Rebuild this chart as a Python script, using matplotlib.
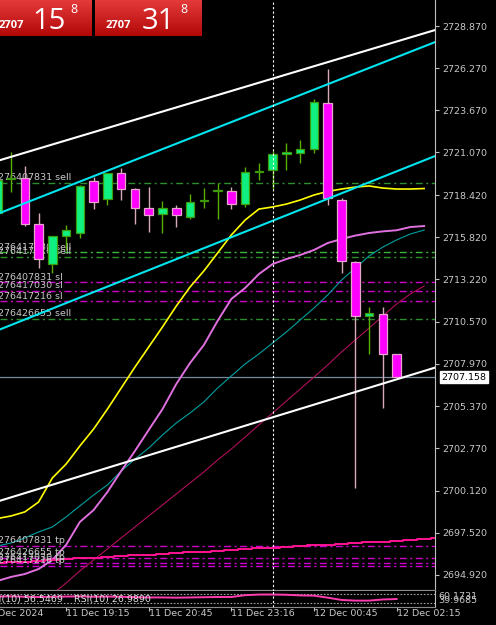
import numpy as np
import matplotlib
matplotlib.use('Agg')
import matplotlib.pyplot as plt
from matplotlib.transforms import blended_transform_factory
from matplotlib.patches import Rectangle
from matplotlib.colors import LinearSegmentedColormap

# ---------------- data ----------------
opens  = [2717.31, 2719.42, 2719.47, 2716.63, 2714.15, 2715.88, 2716.07, 2719.29, 2718.17, 2719.78,
          2718.79, 2717.62, 2717.24, 2717.62, 2717.06, 2718.08, 2718.64, 2718.67, 2717.86, 2719.87,
          2719.97, 2720.95, 2721.02, 2721.26, 2724.11, 2718.11, 2714.28, 2710.94, 2711.06, 2708.59]
highs  = [2719.60, 2721.08, 2720.21, 2717.31, 2715.88, 2716.56, 2719.04, 2719.53, 2719.78, 2720.09,
          2718.85, 2718.91, 2718.05, 2717.80, 2718.48, 2718.85, 2719.16, 2718.91, 2720.15, 2720.40,
          2721.14, 2721.63, 2721.82, 2724.36, 2726.21, 2718.23, 2714.34, 2711.49, 2711.49, 2708.59]
lows   = [2716.90, 2718.60, 2716.50, 2713.90, 2713.60, 2715.02, 2715.76, 2717.55, 2717.80, 2718.11,
          2716.63, 2716.13, 2716.07, 2716.44, 2716.93, 2717.62, 2716.93, 2717.55, 2717.68, 2719.35,
          2718.79, 2719.97, 2720.40, 2721.02, 2717.80, 2713.60, 2700.30, 2708.59, 2705.25, 2707.16]
closes = [2719.35, 2719.47, 2716.63, 2714.46, 2715.88, 2716.25, 2718.98, 2717.99, 2719.78, 2718.79,
          2717.62, 2717.18, 2717.62, 2717.18, 2717.99, 2718.11, 2718.67, 2717.86, 2719.84, 2719.90,
          2720.95, 2721.08, 2721.26, 2724.17, 2718.23, 2714.34, 2710.94, 2711.12, 2708.59, 2707.16]

# moving averages (drawn with a 2-bar forward shift, so 32 points)
ma_yellow = [2698.41, 2698.57, 2698.82, 2699.43, 2700.92, 2701.78, 2702.90, 2703.95, 2705.18, 2706.48,
             2707.78, 2709.02, 2710.26, 2711.55, 2712.73, 2713.72, 2714.83, 2715.95, 2716.87, 2717.55,
             2717.68, 2717.86, 2718.11, 2718.42, 2718.64, 2718.79, 2718.91, 2718.98, 2718.85, 2718.79,
             2718.79, 2718.82]
ma_violet = [2694.55, 2694.80, 2694.98, 2695.29, 2695.85, 2696.78, 2698.20, 2698.94, 2700.05, 2701.35,
             2702.59, 2703.89, 2705.18, 2706.73, 2708.03, 2709.14, 2710.63, 2711.99, 2712.67, 2713.53,
             2714.15, 2714.46, 2714.71, 2715.02, 2715.45, 2715.70, 2715.91, 2716.07, 2716.17, 2716.24,
             2716.44, 2716.50]
ma_teal   = [2696.71, 2696.90, 2697.21, 2697.58, 2697.89, 2698.51, 2699.19, 2699.87, 2700.49, 2701.35,
             2702.09, 2702.77, 2703.58, 2704.32, 2704.94, 2705.62, 2706.48, 2707.23, 2707.97, 2708.59,
             2709.27, 2709.95, 2710.69, 2711.43, 2712.24, 2713.16, 2713.90, 2714.65, 2715.20, 2715.64,
             2716.01, 2716.25]
ma_crimson = [2690.90, 2691.64, 2692.32, 2693.06, 2693.74, 2694.42, 2695.17, 2695.85, 2696.53, 2697.21,
              2697.89, 2698.57, 2699.25, 2699.93, 2700.61, 2701.29, 2702.03, 2702.71, 2703.45, 2704.20,
              2704.94, 2705.68, 2706.42, 2707.16, 2707.91, 2708.71, 2709.45, 2710.19, 2710.94, 2711.68,
              2712.30, 2712.79]
ma_pink = [2695.66, 2695.70, 2695.74, 2695.80, 2695.85, 2695.88, 2695.94, 2695.99, 2696.04, 2696.07,
           2696.13, 2696.18, 2696.23, 2696.26, 2696.32, 2696.37, 2696.42, 2696.45, 2696.51, 2696.56,
           2696.61, 2696.64, 2696.70, 2696.75, 2696.80, 2696.83, 2696.89, 2696.94, 2696.99, 2697.02,
           2697.08, 2697.13, 2697.19]

# trend lines: anchor bars and prices
trend_x = [-1, 33]
white_upper = [2720.27, 2728.93]
white_lower = [2699.20, 2708.06]
cyan_upper  = [2716.91, 2728.28]
cyan_lower  = [2709.70, 2721.24]

# order lines
sell_prices = [2719.16, 2714.87, 2714.57, 2710.75]
sell_labels = ["276407831 sell", "276417030 sell", "276417216 sell", "276426655 sell"]
sell_colors = ['#2E8B2E', '#3CB43C', '#2E8B2E', '#2E8B2E']
sl_prices = [2713.02, 2712.48, 2711.84]
sl_labels = ["276407831 sl", "276417030 sl", "276417216 sl"]
tp_prices = [2696.71, 2695.97, 2695.69, 2695.48]
tp_labels = ["276407831 tp", "276426655 tp", "276417030 tp", "276417216 tp"]

current_price = 2707.158
marker_bar = 20

price_ticks = [2728.870, 2726.270, 2723.670, 2721.070, 2718.420, 2715.820, 2713.220,
               2710.570, 2707.970, 2705.370, 2702.770, 2700.120, 2697.520, 2694.920]

time_tick_bars = [-1, 5, 11, 17, 23, 29]
time_tick_labels = ["11 Dec 2024", "11 Dec 19:15", "11 Dec 20:45", "11 Dec 23:16",
                    "12 Dec 00:45", "12 Dec 02:15"]

rsi = [60, 61, 59, 58, 59, 60, 61, 59, 60, 59, 57, 56, 56, 55, 56, 57, 58, 58, 66, 69,
       69, 68, 65, 64, 55, 45, 42, 42, 47, 49]

# ---------------- figure ----------------
W, H = 496, 625
fig = plt.figure(figsize=(W / 100, H / 100), dpi=100, facecolor='black')

def fx(x):
    return x / W

def fy(y):
    return 1 - y / H

TXT = '#C8C8C8'
FS = 6.8

ax = fig.add_axes([0, fy(591), fx(435), 591 / H])
ax_rsi = fig.add_axes([0, fy(607), fx(435), 16 / H])
for a in (ax, ax_rsi):
    a.set_facecolor('black')
    a.set_xlim(0.2, 31.79)
    for s in ('top', 'left'):
        a.spines[s].set_visible(False)
    a.spines['right'].set_color('#C0C0C0')
    a.spines['bottom'].set_color('#8A8A8A')

ax.set_ylim(2693.93, 2730.48)
ax.spines['bottom'].set_linewidth(1.6)
ax.set_xticks([])
ax.yaxis.tick_right()
ax.set_yticks(price_ticks)
ax.set_yticklabels([f"{v:.3f}" for v in price_ticks])
ax.tick_params(axis='y', colors='#C0C0C0', labelcolor=TXT, labelsize=FS, length=3, width=0.8, pad=2)

# moving averages
ma_x = np.arange(len(ma_yellow))
ax.plot(ma_x, ma_crimson, color='#B0105A', lw=0.8, zorder=2)
ax.plot(ma_x, ma_teal, color='#00A0A0', lw=0.8, zorder=2)
ax.plot(ma_x, ma_violet, color='#E070E0', lw=1.4, zorder=2)
ax.plot(ma_x, ma_yellow, color='#FFFF00', lw=1.2, zorder=2)
ax.plot(np.arange(len(ma_pink)), ma_pink, color='#FF1493', lw=1.4, zorder=2, drawstyle='steps-mid')

# order lines
dd = (5, 2.5, 1.5, 2.5)
lbl_x = 0.08
for p, lab, col in zip(sell_prices, sell_labels, sell_colors):
    ax.axhline(p, color=col, lw=1.0, dashes=dd, zorder=1)
    ax.text(lbl_x, p + 0.05, lab, color=TXT, fontsize=FS, va='bottom', ha='left', clip_on=True, zorder=3)
for p, lab in zip(sl_prices, sl_labels):
    ax.axhline(p, color='#D000D0', lw=1.0, dashes=dd, zorder=1)
    ax.text(lbl_x, p + 0.05, lab, color=TXT, fontsize=FS, va='bottom', ha='left', clip_on=True, zorder=3)
for p, lab in zip(tp_prices, tp_labels):
    ax.axhline(p, color='#D000D0', lw=1.0, dashes=dd, zorder=1)
    ax.text(lbl_x, p + 0.05, lab, color=TXT, fontsize=FS, va='bottom', ha='left', clip_on=True, zorder=3)

# current price line
ax.axhline(current_price, color='#778899', lw=0.9, zorder=1)

# candles
bar_x = np.arange(len(opens))
for i, o, h, l, c in zip(bar_x, opens, highs, lows, closes):
    up = c >= o
    wick = '#5AAE00' if up else '#D8AAB8'
    face = '#10F080' if up else '#FF00FF'
    edge = '#3E9A0A' if up else '#E6A6CC'
    ax.vlines(i, l, h, color=wick, lw=1.0, zorder=5)
    lo = min(o, c)
    hh = max(abs(c - o), 0.06)
    ax.add_patch(Rectangle((i - 0.31, lo), 0.62, hh, facecolor=face, edgecolor=edge, lw=0.9, zorder=6))

# trend lines
ax.plot(trend_x, white_upper, color='white', lw=1.5, zorder=7)
ax.plot(trend_x, white_lower, color='white', lw=1.5, zorder=7)
ax.plot(trend_x, cyan_upper, color='#00E5EE', lw=1.5, zorder=7)
ax.plot(trend_x, cyan_lower, color='#00E5EE', lw=1.5, zorder=7)

# vertical marker
for a in (ax, ax_rsi):
    a.axvline(marker_bar, color='white', lw=0.8, dashes=(2, 2), zorder=8)

# current price box
tr = blended_transform_factory(ax.transAxes, ax.transData)
ax.text(1.014, current_price, f"{current_price:.3f}", transform=tr, color='black', fontsize=FS,
        va='center', ha='left', clip_on=False, zorder=10,
        bbox=dict(facecolor='white', edgecolor='white', pad=1.0))

# RSI panel
ax_rsi.set_ylim(13.6, 84.7)
ax_rsi.set_yticks([])
ax_rsi.axhline(70, color='#A0A0A0', lw=0.8, ls=(0, (1.5, 1.5)))
ax_rsi.axhline(30, color='#A0A0A0', lw=0.8, ls=(0, (1.5, 1.5)))
ax_rsi.plot(np.arange(len(rsi)), rsi, color='#FF3DB0', lw=1.4, zorder=3)
ax_rsi.text(-0.85, 48, "RSI(10) 56.5469", color='#E0E0E0', fontsize=FS, va='center', ha='left', clip_on=True, zorder=4)
ax_rsi.text(5.6, 48, "RSI(10) 26.9890", color='#E0E0E0', fontsize=FS, va='center', ha='left', clip_on=True, zorder=4)
trr = blended_transform_factory(ax_rsi.transAxes, ax_rsi.transData)
ax_rsi.text(1.008, 62, "60.1731", transform=trr, color=TXT, fontsize=FS, va='center', ha='left', clip_on=False)
ax_rsi.text(1.008, 44, "39.9685", transform=trr, color=TXT, fontsize=FS, va='center', ha='left', clip_on=False)

# time axis: ticks and left-aligned labels drawn manually
visible_ticks = [b for b in time_tick_bars if b >= 0.2]
ax_rsi.set_xticks(visible_ticks)
ax_rsi.set_xticklabels([])
ax_rsi.tick_params(axis='x', colors='#C0C0C0', length=3, width=0.8)
trx = blended_transform_factory(ax_rsi.transData, fig.transFigure)
for b, lab in zip(time_tick_bars, time_tick_labels):
    ax_rsi.text(b, fy(614), lab, transform=trx, color=TXT, fontsize=FS, va='center', ha='left',
                clip_on=False)

# top-left price boxes
grad = np.linspace(0, 1, 64).reshape(-1, 1)
red_cmap = LinearSegmentedColormap.from_list('r', ['#E43A3A', '#B30808'])
for bx, big, small_x in ((-15, "15", -1), (95, "31", 106)):
    bax = fig.add_axes([fx(bx), fy(36), fx(106.7), 36 / H])
    bax.imshow(grad, aspect='auto', cmap=red_cmap, extent=(0, 1, 0, 1))
    bax.set_axis_off()
    fig.text(fx(small_x), fy(28), "2707", color='white', fontsize=8, fontweight='bold',
             family='Open Sans', va='baseline', ha='left')
    fig.text(fx(bx + 47), fy(29), big, color='white', fontsize=21, family='Open Sans',
             va='baseline', ha='left')
    fig.text(fx(bx + 85), fy(3), "8", color='white', fontsize=9, family='Open Sans',
             va='top', ha='left')

fig.savefig('out.png', dpi=100, facecolor='black')
